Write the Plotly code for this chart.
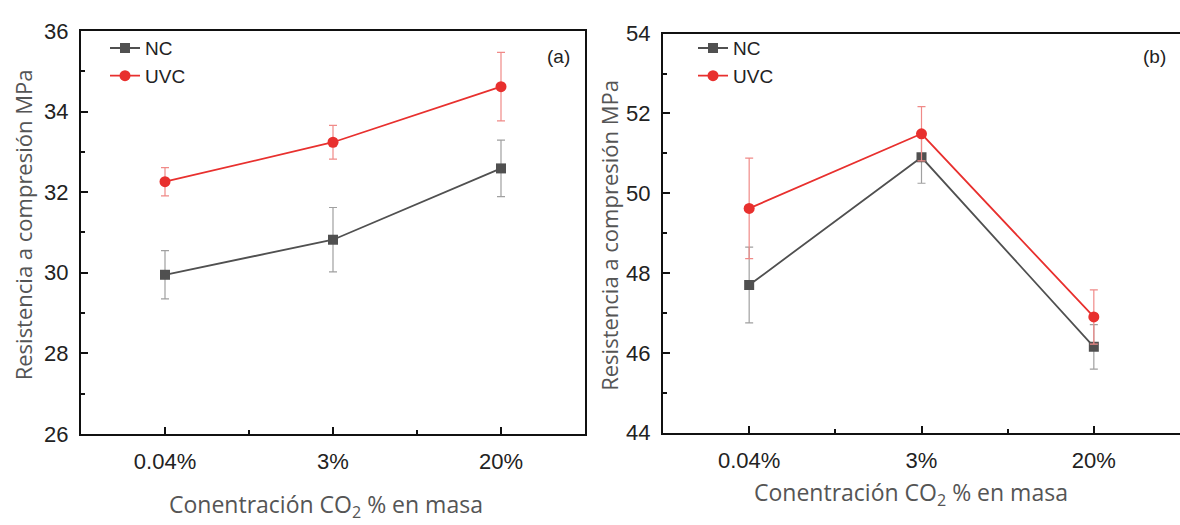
import plotly.graph_objects as go

categories = ["0.04%", "3%", "20%"]

# Panel (a)
nc_a = [29.95, 30.82, 32.59]
nc_a_err = [0.60, 0.80, 0.70]
uvc_a = [32.26, 33.24, 34.62]
uvc_a_err = [0.35, 0.42, 0.85]

# Panel (b)
nc_b = [47.70, 50.90, 46.15]
nc_b_err = [0.95, 0.65, 0.56]
uvc_b = [49.62, 51.49, 46.90]
uvc_b_err = [1.26, 0.68, 0.68]

y_title = "Resistencia a compresión MPa"
x_title = "Conentración CO<sub>2</sub> % en masa"

W, H = 1180, 525
xpos = list(range(len(categories)))

NC_COLOR = "#505050"
NC_ERR = "#a0a0a0"
UVC_COLOR = "#e8302e"
UVC_ERR = "#f08a88"

fig = go.Figure()


def add_pair(nc, nc_err, uvc, uvc_err, xa, ya, legend):
    fig.add_trace(go.Scatter(
        x=xpos, y=nc, name="NC", mode="lines+markers",
        line=dict(color=NC_COLOR, width=1.8),
        marker=dict(symbol="square", size=10, color=NC_COLOR),
        error_y=dict(type="data", array=nc_err, visible=True, color=NC_ERR, thickness=1.2, width=4),
        xaxis=xa, yaxis=ya, legend=legend))
    fig.add_trace(go.Scatter(
        x=xpos, y=uvc, name="UVC", mode="lines+markers",
        line=dict(color=UVC_COLOR, width=1.8),
        marker=dict(symbol="circle", size=11, color=UVC_COLOR),
        error_y=dict(type="data", array=uvc_err, visible=True, color=UVC_ERR, thickness=1.2, width=4),
        xaxis=xa, yaxis=ya, legend=legend))


add_pair(nc_a, nc_a_err, uvc_a, uvc_a_err, "x", "y", "legend")
add_pair(nc_b, nc_b_err, uvc_b, uvc_b_err, "x2", "y2", "legend2")

tick_font = dict(family="Liberation Sans, Arial, sans-serif", size=22, color="#222222")

xcommon = dict(
    range=[-0.5, 2.5], tickmode="array", tickvals=xpos, ticktext=categories,
    ticks="inside", ticklen=7, tickwidth=2, tickcolor="#111111",
    showline=True, linewidth=2, linecolor="#111111", mirror=True,
    showgrid=False, zeroline=False, tickfont=tick_font, ticklabelstandoff=7,
    minor=dict(tickvals=[0.5, 1.5], ticks="inside", ticklen=4, tickwidth=2, tickcolor="#111111", showgrid=False),
)
ycommon = dict(
    dtick=2, ticks="inside", ticklen=7, tickwidth=2, tickcolor="#111111",
    showline=True, linewidth=2, linecolor="#111111",
    showgrid=False, zeroline=False, tickfont=tick_font, ticklabelstandoff=6,
    minor=dict(dtick=1, ticks="inside", ticklen=4, tickwidth=2, tickcolor="#111111", showgrid=False),
)

legend_font = dict(family="Liberation Sans, Arial, sans-serif", size=19, color="#222222")

fig.update_layout(
    width=W, height=H,
    margin=dict(l=0, r=0, t=0, b=0),
    paper_bgcolor="white", plot_bgcolor="white",
    xaxis=dict(domain=[81 / W, 585 / W], anchor="y", **xcommon),
    yaxis=dict(domain=[1 - 443 / H, 1 - 20 / H], anchor="x", range=[26, 36], tick0=26, mirror=True, **ycommon),
    xaxis2=dict(domain=[663 / W, 1.0], anchor="y2", **xcommon),
    yaxis2=dict(domain=[1 - 441.7 / H, 1 - 22.7 / H], anchor="x2", range=[44, 54], tick0=44, mirror=False, **ycommon),
    legend=dict(x=105 / W, y=1 - 18 / H, xanchor="left", yanchor="top", bgcolor="rgba(0,0,0,0)",
                font=legend_font, tracegroupgap=0, itemwidth=30),
    legend2=dict(x=693 / W, y=1 - 18 / H, xanchor="left", yanchor="top", bgcolor="rgba(0,0,0,0)",
                 font=legend_font, tracegroupgap=0, itemwidth=30),
)

ytitle_font = dict(family="Open Sans, sans-serif", size=22, color="#555555")
xtitle_font = dict(family="Open Sans, sans-serif", size=23, color="#555555")
label_font = dict(family="Liberation Sans, Arial, sans-serif", size=19, color="#222222")
ann = [
    dict(text=y_title, x=23 / W, y=1 - 224 / H, textangle=-90, font=ytitle_font),
    dict(text=y_title, x=609 / W, y=1 - 235 / H, textangle=-90, font=ytitle_font),
    dict(text=x_title, x=326 / W, y=1 - 518 / H, font=xtitle_font),
    dict(text=x_title, x=911 / W, y=1 - 506 / H, font=xtitle_font),
    dict(text="(a)", x=558 / W, y=1 - 47 / H, font=label_font),
    dict(text="(b)", x=1154 / W, y=1 - 47 / H, font=label_font),
]
for a in ann:
    fig.add_annotation(xref="paper", yref="paper", xanchor="center", yanchor="middle", showarrow=False, **a)

fig.write_html("out.html")
